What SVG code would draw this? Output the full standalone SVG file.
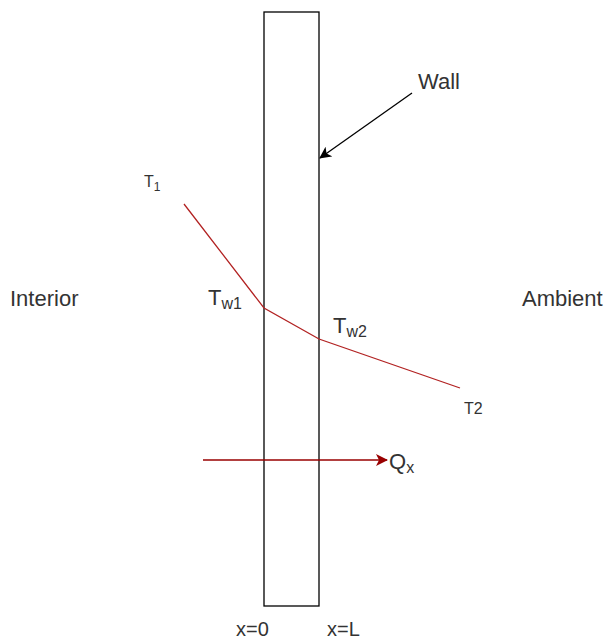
<svg xmlns="http://www.w3.org/2000/svg" width="611" height="642" viewBox="0 0 611 642">
<defs>
<marker id="ahb" markerWidth="12" markerHeight="12" refX="11" refY="6" orient="auto" markerUnits="userSpaceOnUse">
<path d="M0,0 L12,6 L0,12 L3,6 Z" fill="#000"/>
</marker>
<marker id="ahr" markerWidth="12" markerHeight="12" refX="11" refY="6" orient="auto" markerUnits="userSpaceOnUse">
<path d="M0,0 L12,6 L0,12 L3,6 Z" fill="#990000"/>
</marker>
<style>
text{font-family:"Liberation Sans",Arial,sans-serif;fill:#333}
.lbl{font-size:22px}
.sm{font-size:16px}
.ax{font-size:20px}
</style>
</defs>
<rect width="611" height="642" fill="#fff"/>
<g id="wall"><rect x="264" y="12" width="55" height="594" fill="none" stroke="#000" stroke-width="1.3"/></g>
<g id="connectors">
<polyline points="184,204 264,308 319,339 460,388" fill="none" stroke="#b22222" stroke-width="1.3"/>
<line x1="203" y1="460" x2="387" y2="460" stroke="#990000" stroke-width="1.3" marker-end="url(#ahr)"/>
<line x1="412" y1="93" x2="320" y2="158" stroke="#000" stroke-width="1.3" marker-end="url(#ahb)"/>
</g>
<g id="labels">
<text x="144" y="187" class="sm">T<tspan font-size="12" dy="4">1</tspan></text>
<text x="10" y="306" class="lbl">Interior</text>
<text x="208" y="305" class="lbl">T<tspan font-size="16" dy="4">w1</tspan></text>
<text x="333" y="333" class="lbl">T<tspan font-size="16" dy="4">w2</tspan></text>
<text x="522" y="306" class="lbl">Ambient</text>
<text x="464" y="414" class="sm">T2</text>
<text x="389" y="469" class="lbl">Q<tspan font-size="16" dy="4">x</tspan></text>
<text x="418" y="89" class="lbl">Wall</text>
<text x="236" y="636" class="ax">x=0</text>
<text x="327" y="636" class="ax">x=L</text>
</g>
</svg>
